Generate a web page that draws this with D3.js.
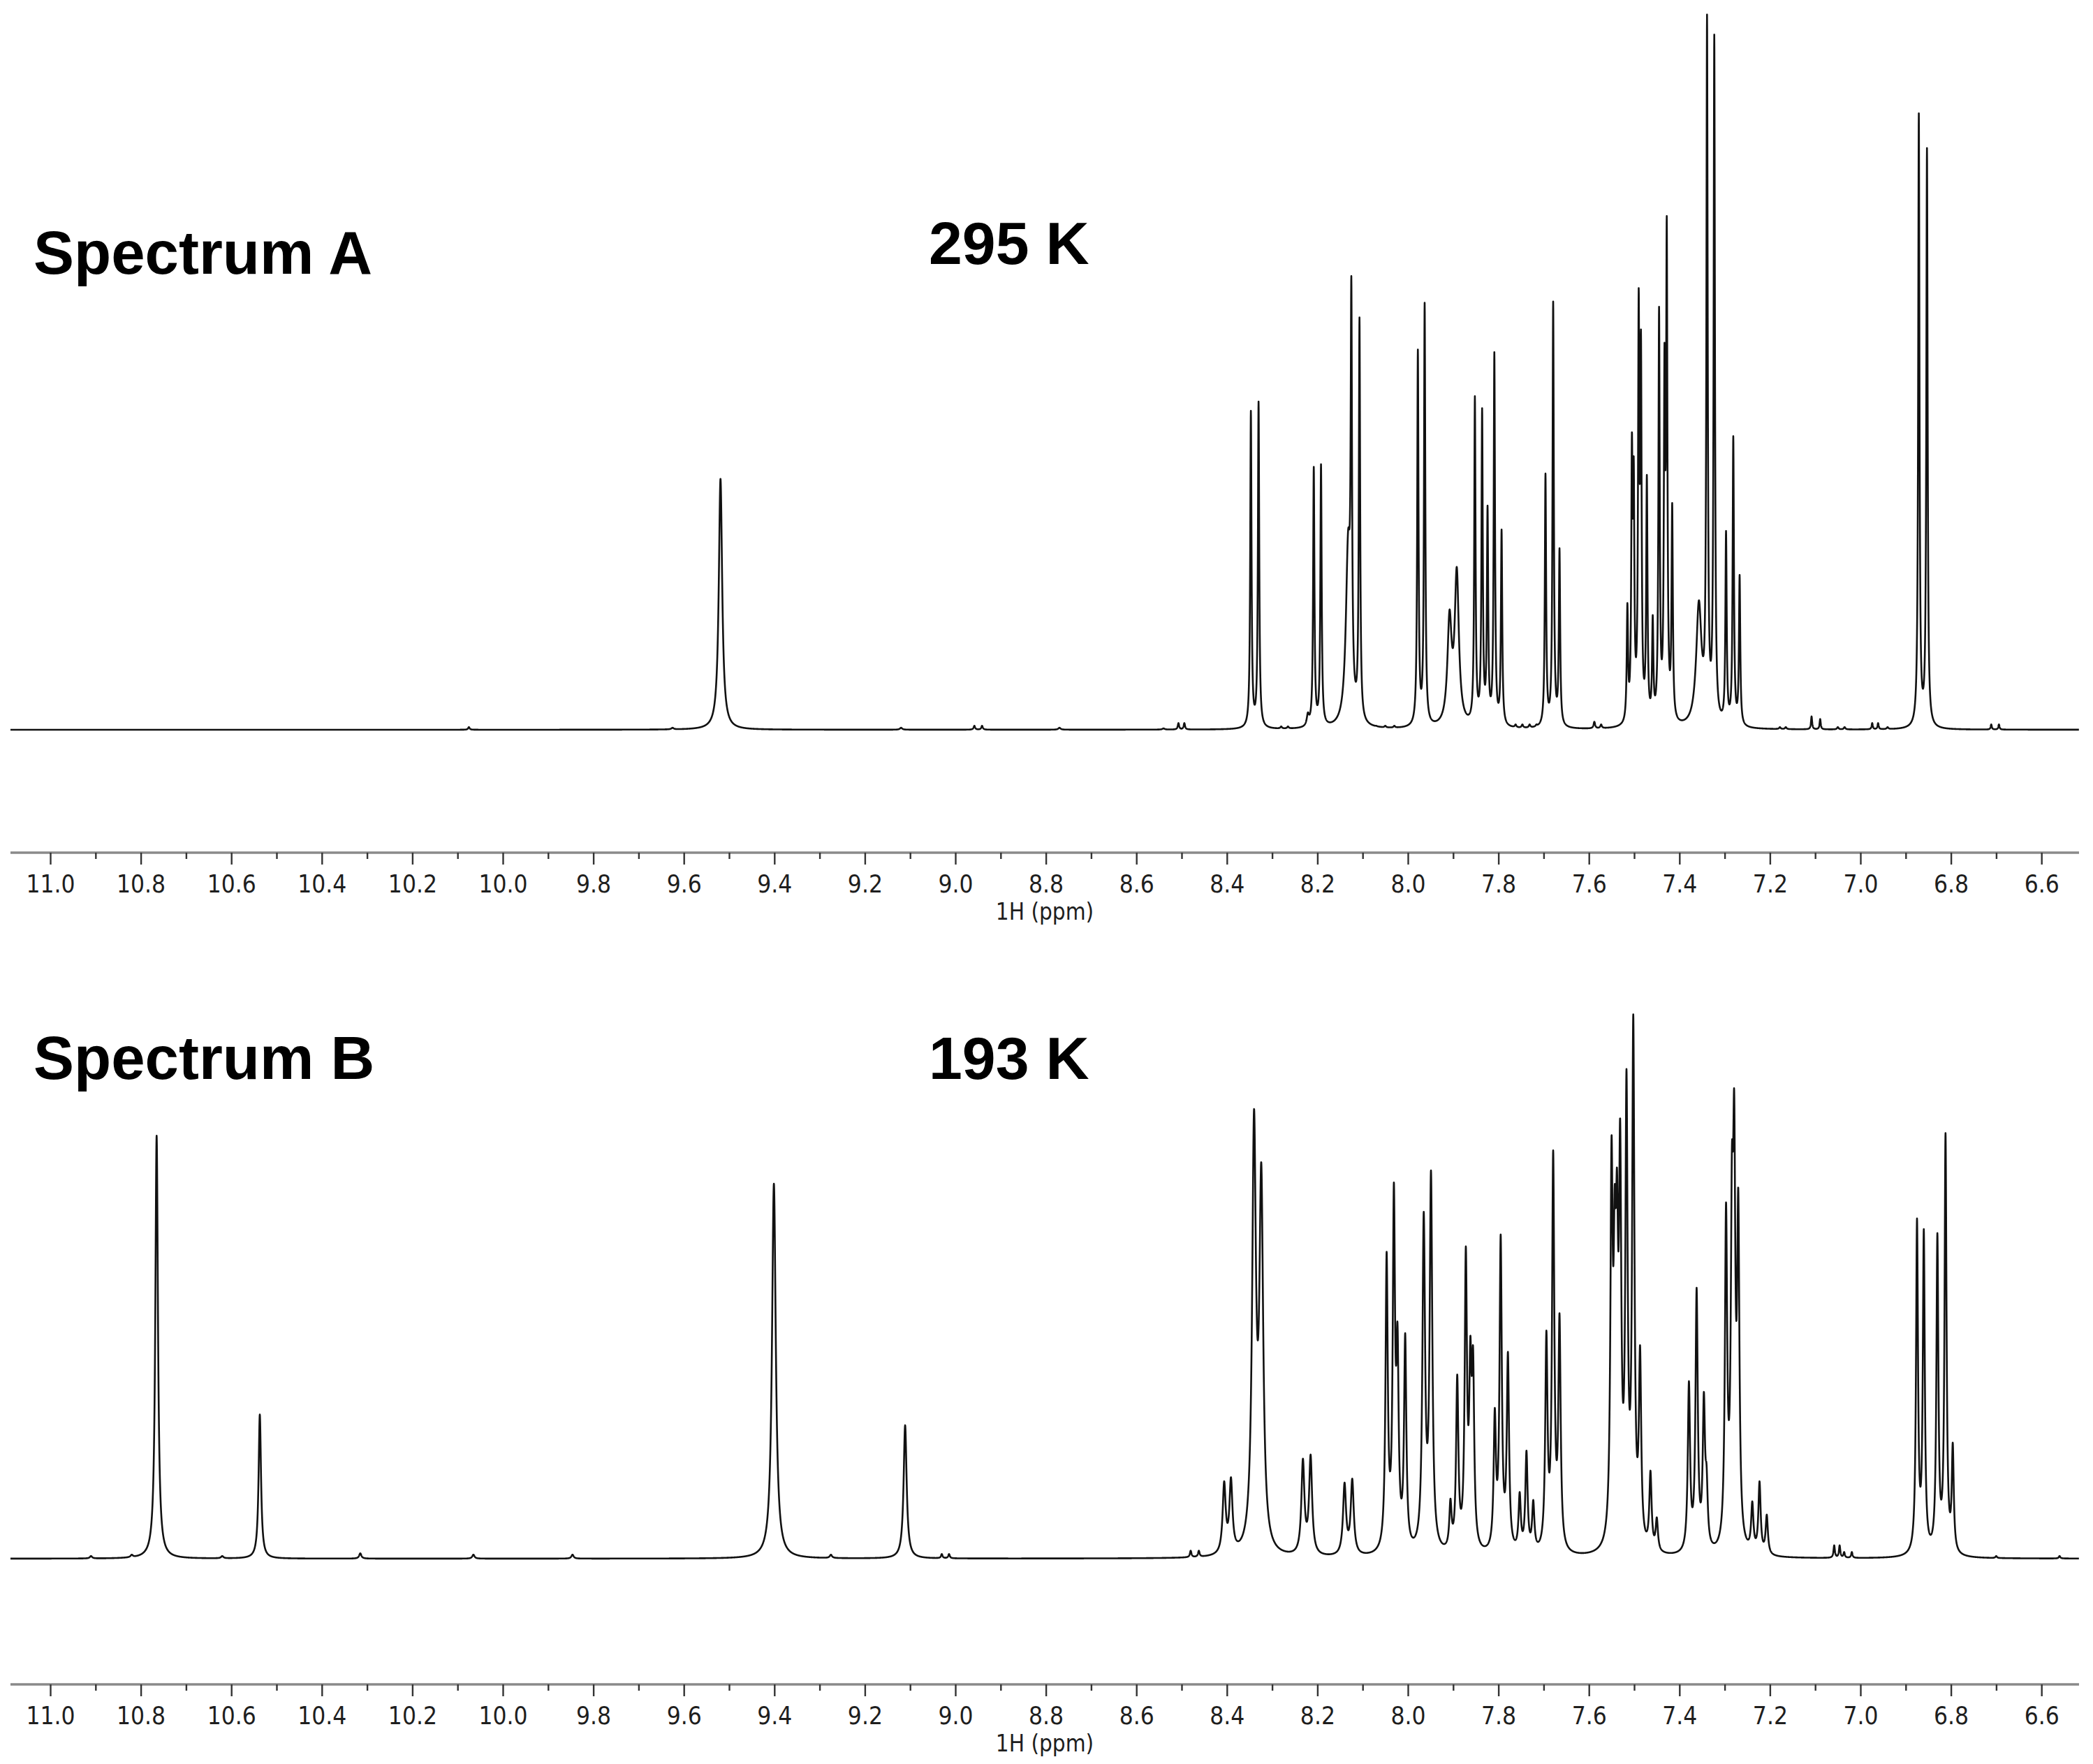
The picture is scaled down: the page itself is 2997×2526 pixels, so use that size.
<!DOCTYPE html>
<html>
<head>
<meta charset="utf-8">
<script src="https://cdn.jsdelivr.net/npm/d3@7"></script>
<style>
  body { margin: 0; background: #fff; }
  svg { display: block; }
</style>
</head>
<body>
<div id="chart"></div>
<script>
const W = 2997, H = 2526;

// peak lists: [shift (ppm), height (a.u.), half width (ppm)]
const peaksA = [
  [10.075, 2, 0.002], [9.625, 1.5, 0.003], [9.519, 188, 0.0045], [9.120, 1.5, 0.003],
  [8.958, 3, 0.002], [8.941, 3, 0.002], [8.770, 1.5, 0.003], [8.540, 1, 0.003],
  [8.507, 5, 0.0018], [8.494, 5, 0.0018],
  [8.347, 239, 0.0017], [8.330, 246, 0.0017], [8.280, 2.5, 0.002], [8.265, 2.5, 0.002],
  [8.221, 13, 0.003], [8.208, 197, 0.0017], [8.192, 199, 0.0017],
  [8.132, 150, 0.006], [8.125, 340, 0.0017], [8.107, 309, 0.0017],
  [8.070, 3, 0.002], [8.050, 3, 0.002], [8.030, 3, 0.002],
  [7.978, 285, 0.0017], [7.963, 320, 0.0017],
  [7.908, 90, 0.0055], [7.892, 122, 0.0055],
  [7.852, 250, 0.0017], [7.836, 241, 0.0017], [7.824, 168, 0.0017], [7.809, 283, 0.0017], [7.793, 150, 0.0017],
  [7.762, 4, 0.002], [7.747, 4, 0.002], [7.731, 4, 0.002], [7.716, 4, 0.002],
  [7.696, 192, 0.0017], [7.679, 321, 0.0017], [7.665, 136, 0.0017],
  [7.588, 6, 0.002], [7.573, 4, 0.002],
  [7.515, 95, 0.0017], [7.505, 223, 0.0017], [7.501, 205, 0.0017], [7.490, 331, 0.0017], [7.485, 300, 0.0017],
  [7.472, 191, 0.0017], [7.459, 86, 0.0017], [7.445, 317, 0.0017], [7.433, 290, 0.0017], [7.428, 385, 0.0017],
  [7.416, 170, 0.0017],
  [7.357, 97, 0.007], [7.339, 536, 0.0017], [7.323, 521, 0.0017],
  [7.297, 149, 0.0017], [7.281, 220, 0.0017], [7.267, 116, 0.0017],
  [7.178, 2, 0.002], [7.165, 2, 0.002], [7.108, 10, 0.0015], [7.089, 8, 0.0015],
  [7.050, 2, 0.002], [7.035, 2, 0.002], [6.974, 5, 0.0015], [6.961, 5, 0.0015], [6.940, 2, 0.002],
  [6.871, 462, 0.0017], [6.853, 436, 0.0017],
  [6.711, 4, 0.0015], [6.694, 4, 0.0015]
];

const peaksB = [
  [10.910, 2, 0.003], [10.820, 3, 0.003], [10.765, 317, 0.0035], [10.620, 2, 0.003],
  [10.537, 108, 0.0032], [10.315, 4, 0.003], [10.065, 3, 0.003], [9.846, 3, 0.003],
  [9.401, 281, 0.005], [9.275, 3, 0.003], [9.111, 100, 0.004],
  [9.030, 3.5, 0.002], [9.014, 3.5, 0.002], [8.480, 6, 0.002], [8.462, 6, 0.002],
  [8.406, 58, 0.004], [8.391, 61, 0.004],
  [8.340, 337, 0.005], [8.324, 297, 0.005],
  [8.232, 75, 0.004], [8.215, 78, 0.004],
  [8.140, 57, 0.004], [8.123, 60, 0.004],
  [8.047, 230, 0.003], [8.031, 282, 0.003], [8.023, 177, 0.003], [8.006, 169, 0.003],
  [7.965, 260, 0.0035], [7.949, 291, 0.0035],
  [7.906, 45, 0.003], [7.891, 138, 0.003], [7.872, 234, 0.003], [7.862, 167, 0.003], [7.856, 159, 0.003],
  [7.808, 113, 0.003], [7.795, 243, 0.003], [7.779, 155, 0.003],
  [7.753, 50, 0.003], [7.738, 81, 0.003], [7.723, 44, 0.003],
  [7.694, 171, 0.003], [7.679, 306, 0.003], [7.665, 184, 0.003],
  [7.550, 317, 0.003], [7.543, 280, 0.003], [7.538, 293, 0.003], [7.531, 330, 0.003],
  [7.517, 367, 0.003], [7.502, 408, 0.003], [7.487, 160, 0.003], [7.464, 66, 0.003], [7.450, 31, 0.003],
  [7.379, 133, 0.003], [7.362, 203, 0.003], [7.346, 125, 0.003], [7.340, 70, 0.003],
  [7.297, 267, 0.003], [7.284, 309, 0.003], [7.279, 351, 0.003], [7.270, 278, 0.003],
  [7.239, 43, 0.003], [7.223, 58, 0.003], [7.207, 33, 0.003],
  [7.058, 10, 0.0018], [7.046, 10, 0.0018], [7.036, 5, 0.0018], [7.019, 5, 0.0018],
  [6.875, 255, 0.0026], [6.860, 247, 0.0026], [6.830, 244, 0.0026], [6.812, 319, 0.0026], [6.796, 87, 0.0026],
  [6.700, 2, 0.002], [6.560, 2, 0.002]
];

const majorTicks = [11.0, 10.8, 10.6, 10.4, 10.2, 10.0, 9.8, 9.6, 9.4, 9.2, 9.0, 8.8, 8.6, 8.4, 8.2, 8.0, 7.8, 7.6, 7.4, 7.2, 7.0, 6.8, 6.6];
const minorTicks = [10.9, 10.7, 10.5, 10.3, 10.1, 9.9, 9.7, 9.5, 9.3, 9.1, 8.9, 8.7, 8.5, 8.3, 8.1, 7.9, 7.7, 7.5, 7.3, 7.1, 6.9, 6.7];
const ppmRange = [11.088, 6.517];
const spectrumNames = ['Spectrum A', 'Spectrum B'];
const temperatures = ['295 K', '193 K'];
const axisTitle = '1H (ppm)';

// layout of the two stacked panels
const panels = [
  { peaks: peaksA, base: 1045, axisY: 1221, nameY: 392, tempY: 378 },
  { peaks: peaksB, base: 2232, axisY: 2412, nameY: 1545, tempY: 1545 }
];

const x = d3.scaleLinear().domain([11.0, 6.6]).range([72, 2923.2]);

const lorentz = (p, v) => {
  const d = (v - p[0]) / p[2];
  return 1 / (1 + d * d);
};

// scale amplitudes so the summed line passes through each read peak height
const fitAmplitudes = peaks => {
  const amp = peaks.map(p => p[1]);
  for (let it = 0; it < 60; it++) {
    peaks.forEach((p, i) => {
      const s = d3.sum(peaks, (q, j) => amp[j] * lorentz(q, p[0]));
      amp[i] = Math.max(0, amp[i] * p[1] / s);
    });
  }
  return amp;
};

const spectrum = peaks => {
  const amp = fitAmplitudes(peaks);
  const pts = d3.range(ppmRange[0], ppmRange[1], -0.00025);
  return pts.map(v => [v, d3.sum(peaks, (p, j) => amp[j] * lorentz(p, v))]);
};

const svg = d3.select('#chart')
  .append('svg')
  .attr('width', W)
  .attr('height', H)
  .attr('viewBox', `0 0 ${W} ${H}`);

panels.forEach((panel, k) => {
  const y = d3.scaleLinear().domain([0, 537]).range([panel.base, panel.base - 1026]);
  const g = svg.append('g');

  const line = d3.line()
    .x(d => x(d[0]))
    .y(d => y(d[1]));

  g.append('path')
    .datum(spectrum(panel.peaks))
    .attr('fill', 'none')
    .attr('stroke', '#111')
    .attr('stroke-width', 2.6)
    .attr('stroke-linejoin', 'round')
    .attr('d', line);

  // axis
  g.append('line')
    .attr('x1', x(ppmRange[0]))
    .attr('x2', x(ppmRange[1]))
    .attr('y1', panel.axisY)
    .attr('y2', panel.axisY)
    .attr('stroke', '#8a8a8a')
    .attr('stroke-width', 3.5);

  const major = d3.axisBottom(x)
    .tickValues(majorTicks)
    .tickFormat(d3.format('.1f'))
    .tickSize(17)
    .tickPadding(15);

  const minor = d3.axisBottom(x)
    .tickValues(minorTicks)
    .tickFormat('')
    .tickSize(9);

  [major, minor].forEach(ax => {
    const a = g.append('g')
      .attr('transform', `translate(0,${panel.axisY})`)
      .call(ax);
    a.select('.domain').remove();
    a.selectAll('.tick line').attr('stroke', '#333').attr('stroke-width', 2.4);
    a.selectAll('.tick text')
      .attr('fill', '#1e1e1e')
      .style('font-family', '"DejaVu Sans Condensed", "DejaVu Sans", sans-serif')
      .style('font-stretch', 'condensed')
      .style('font-size', '35px');
  });

  g.append('text')
    .attr('x', x((ppmRange[0] + ppmRange[1]) / 2))
    .attr('y', panel.axisY + 96)
    .attr('text-anchor', 'middle')
    .attr('fill', '#1e1e1e')
    .style('font-family', '"DejaVu Sans Condensed", "DejaVu Sans", sans-serif')
    .style('font-stretch', 'condensed')
    .style('font-size', '33px')
    .text(axisTitle);

  g.append('text')
    .attr('x', 48)
    .attr('y', panel.nameY)
    .attr('fill', '#000')
    .style('font-family', '"Liberation Sans", Arial, sans-serif')
    .style('font-weight', 'bold')
    .style('font-size', '87px')
    .text(spectrumNames[k]);

  g.append('text')
    .attr('x', 1330)
    .attr('y', panel.tempY)
    .attr('fill', '#000')
    .style('font-family', '"Liberation Sans", Arial, sans-serif')
    .style('font-weight', 'bold')
    .style('font-size', '86px')
    .text(temperatures[k]);
});
</script>
</body>
</html>
